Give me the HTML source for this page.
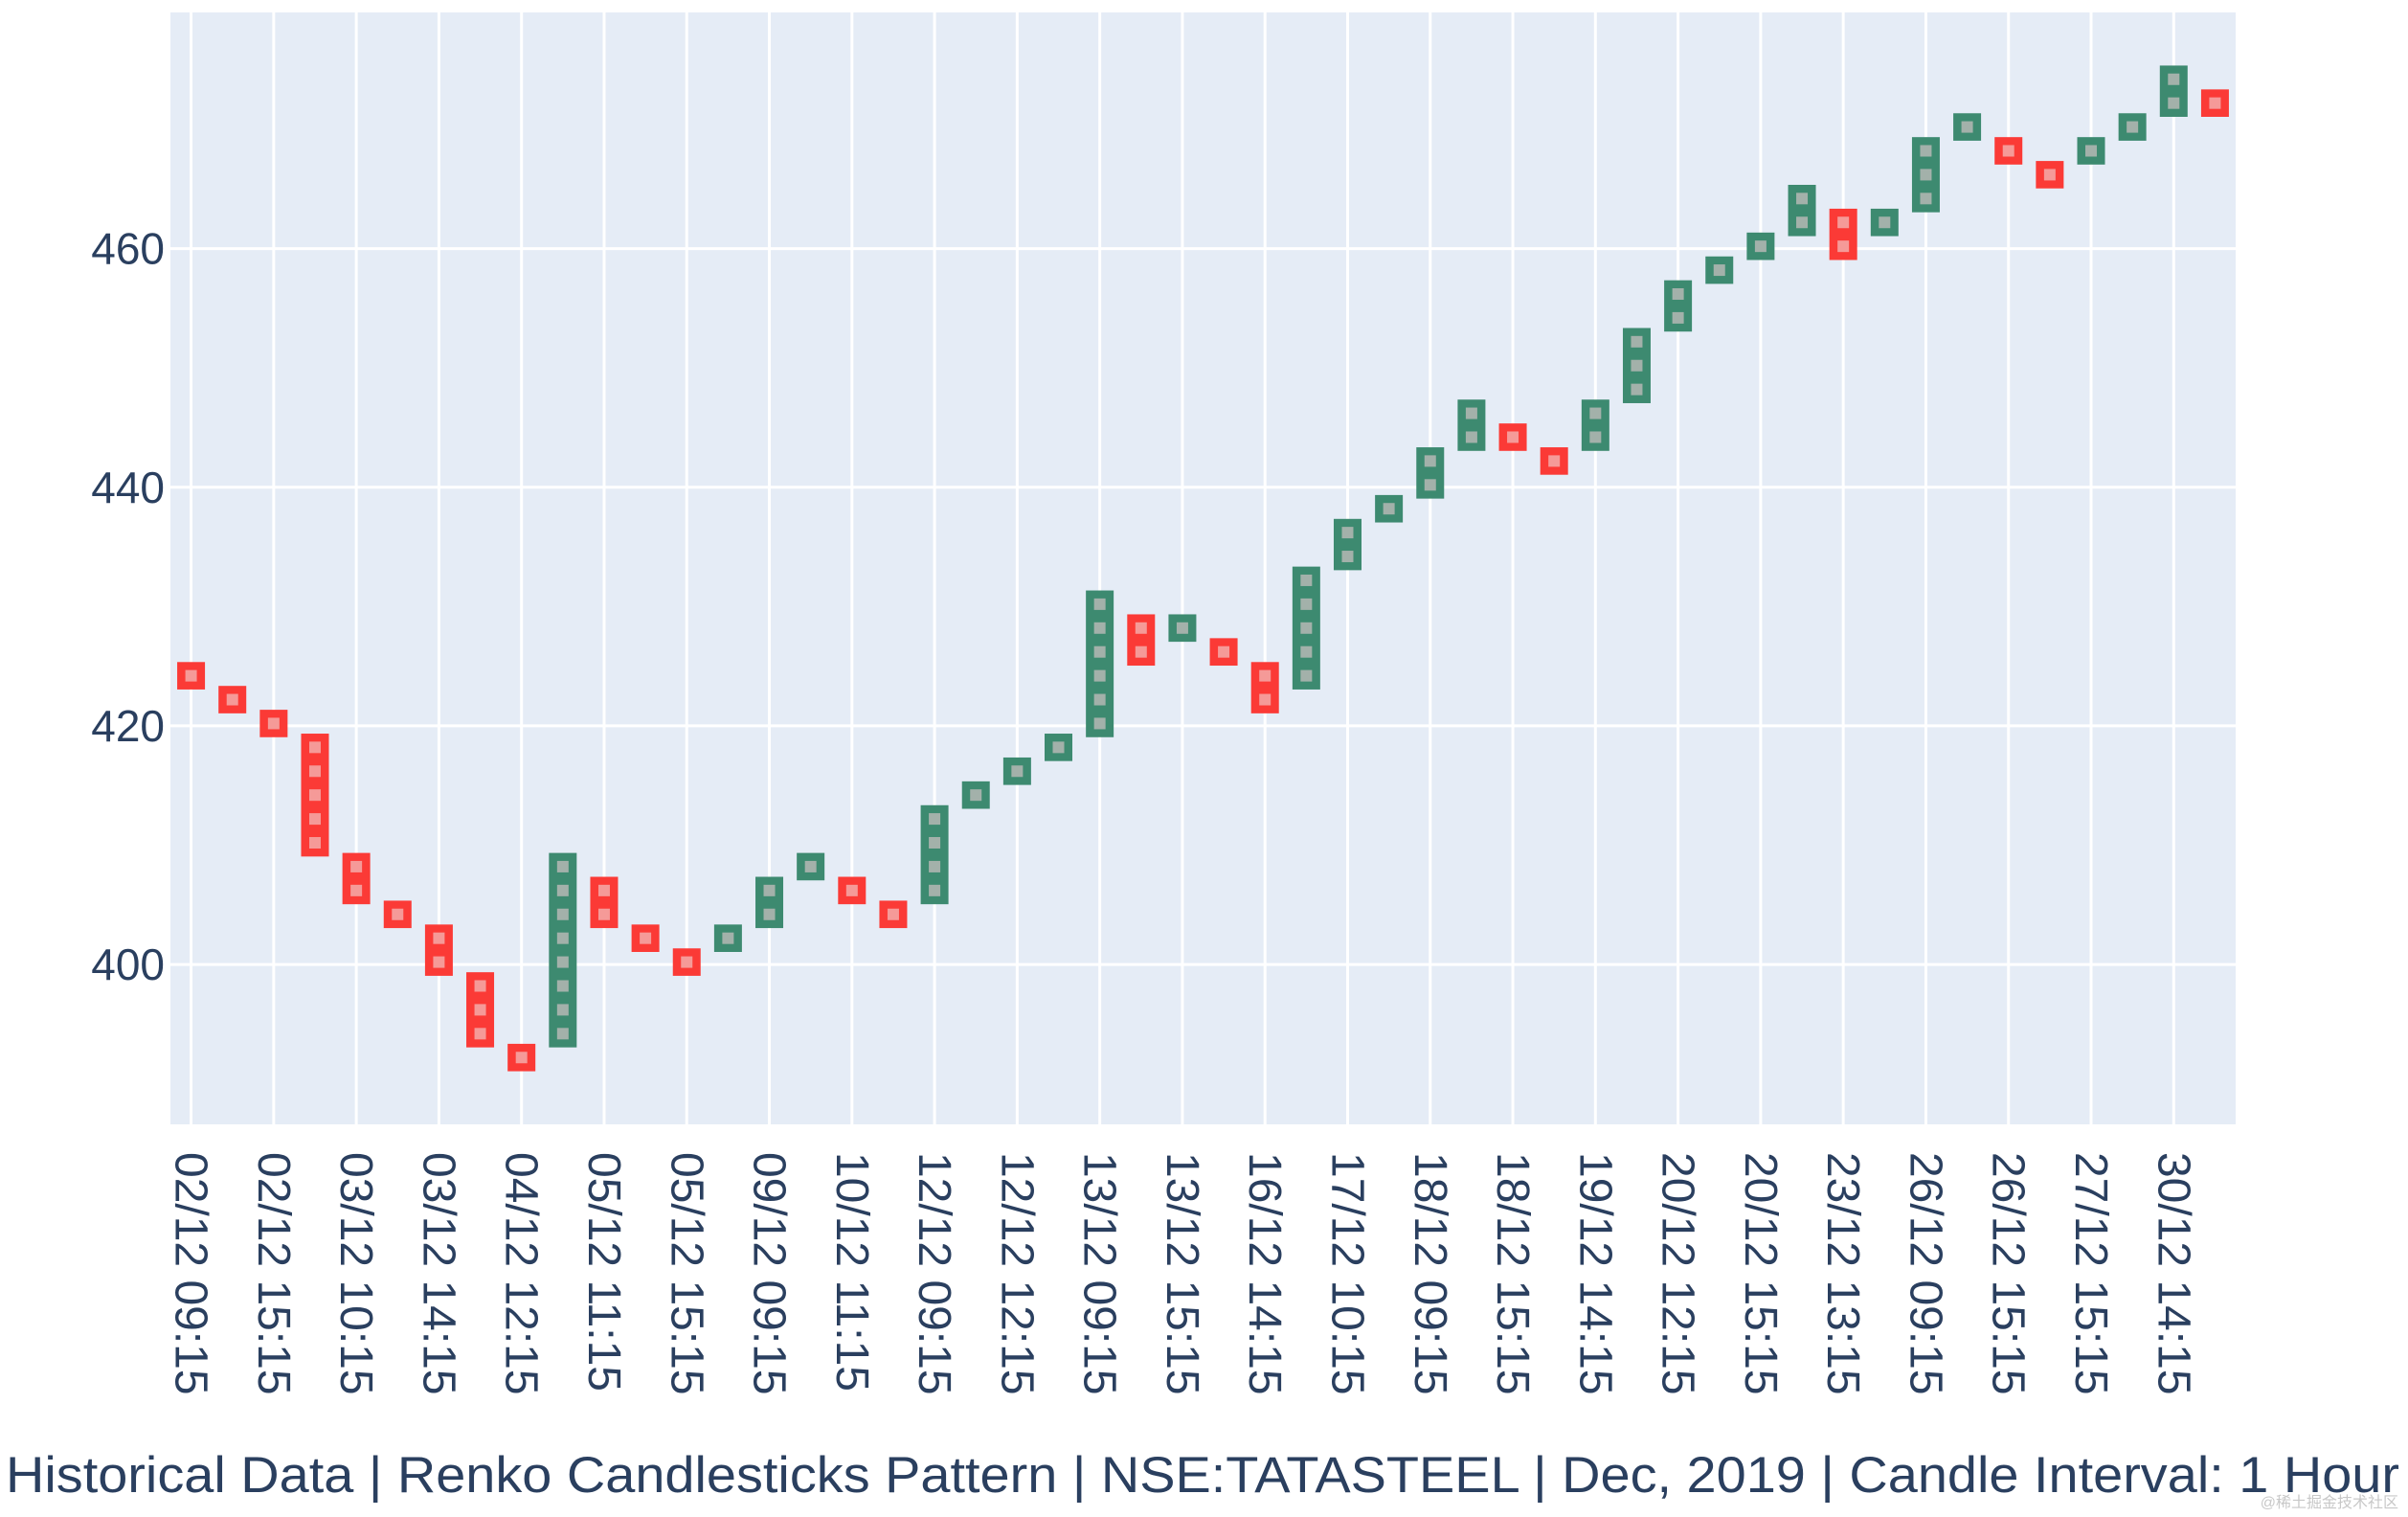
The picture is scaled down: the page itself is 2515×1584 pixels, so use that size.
<!DOCTYPE html>
<html><head><meta charset="utf-8"><style>
html,body{margin:0;padding:0;background:#fff;}
svg{display:block;font-family:"Liberation Sans","Noto Sans CJK SC",sans-serif;}
</style></head><body>
<svg id="chart" width="2515" height="1584" viewBox="0 0 2515 1584" xmlns="http://www.w3.org/2000/svg">
<rect x="178" y="13" width="2157" height="1161" fill="#e5ecf6"/>
<g id="grid"></g>
<g id="bricks"></g>
<g id="yticks"></g>
<g id="xticks"></g>
<text x="6" y="1558" font-size="53" fill="#2a3f5f" textLength="2500" lengthAdjust="spacingAndGlyphs">Historical Data | Renko Candlesticks Pattern | NSE:TATASTEEL | Dec, 2019 | Candle Interval: 1 Hour</text>
<text x="2505" y="1574" font-size="16" fill="#c8c8c8" text-anchor="end">@稀土掘金技术社区</text>
</svg>
<script>
// Each column: direction (1 up/green, -1 down/red), top brick center, brick count
const colDir = [-1,-1,-1,-1,-1,-1,-1,-1,-1,1,-1,-1,-1,1,1,1,-1,-1,1,1,1,1,1,-1,1,-1,-1,1,1,1,1,1,-1,-1,1,1,1,1,1,1,-1,1,1,1,-1,-1,1,1,1,-1];
const colTop = [424.2,422.2,420.2,418.2,408.2,404.2,402.2,398.2,392.2,408.2,406.2,402.2,400.2,402.2,406.2,408.2,406.2,404.2,412.2,414.2,416.2,418.2,430.2,428.2,428.2,426.2,424.2,432.2,436.2,438.2,442.2,446.2,444.2,442.2,446.2,452.2,456.2,458.2,460.2,464.2,462.2,462.2,468.2,470.2,468.2,466.2,468.2,470.2,474.2,472.2];
const colCount = [1,1,1,5,2,1,2,3,1,8,2,1,1,1,2,1,1,1,4,1,1,1,6,2,1,1,2,5,2,1,2,2,1,1,2,3,2,1,1,2,2,1,3,1,1,1,1,1,2,1];
const brickSize = 2;
const yTicks = [400,420,440,460];
const xTickLabels = ["02/12 09:15","02/12 15:15","03/12 10:15","03/12 14:15","04/12 12:15","05/12 11:15","05/12 15:15","09/12 09:15","10/12 11:15","12/12 09:15","12/12 12:15","13/12 09:15","13/12 15:15","16/12 14:15","17/12 10:15","18/12 09:15","18/12 15:15","19/12 14:15","20/12 12:15","20/12 15:15","23/12 13:15","26/12 09:15","26/12 15:15","27/12 15:15","30/12 14:15"];

const NS="http://www.w3.org/2000/svg";
const L=178,R=2335,T=13,B=1174;
const yMin=386.6,yMax=479.8;
const n=colDir.length;
const step=(R-L)/n;
function xs(i){return L+(i+0.5)*step;}
function ys(v){return B-(v-yMin)/(yMax-yMin)*(B-T);}
function mk(tag,attrs,parent){const e=document.createElementNS(NS,tag);for(const k in attrs)e.setAttribute(k,attrs[k]);parent.appendChild(e);return e;}

const grid=document.getElementById('grid');
for(let i=0;i<n;i+=2){
  const g=mk('line',{x1:xs(i),x2:xs(i),y1:T,y2:B,stroke:'#fff','stroke-width':3},grid);
  
  
}
const yt=document.getElementById('yticks');
yTicks.forEach(v=>{
  const g=mk('line',{x1:L,x2:R,y1:ys(v),y2:ys(v),stroke:'#fff','stroke-width':3},grid);
  
  
  const t=mk('text',{x:L-6,y:ys(v)+16,'font-size':46,fill:'#2a3f5f','text-anchor':'end'},yt);
  t.textContent=v;
  
  
});
const xt=document.getElementById('xticks');
xTickLabels.forEach((lab,k)=>{
  const x=xs(k*2)-16, y=1203;
  const t=mk('text',{x:x,y:y,'font-size':48,fill:'#2a3f5f',transform:`rotate(90 ${x} ${y})`},xt);
  t.textContent=lab;
  
  
});

const br=document.getElementById('bricks');
for(let i=0;i<n;i++){
  const up=colDir[i]>0;
  const col=up?'#3d8a70':'#fb3a36';
  const mcol=up?'#a3b1aa':'#f59a98';
  const top=colTop[i], bot=colTop[i]-(colCount[i]-1)*brickSize;
  const yTop=ys(top+1.15), yBot=ys(bot-1.15);
  const w=29;
  const r=mk('rect',{x:xs(i)-w/2,y:yTop,width:w,height:yBot-yTop,fill:col},br);
  
  
  for(let k=0;k<colCount[i];k++){
    const c=top-k*brickSize;
    const m=mk('rect',{x:xs(i)-6,y:ys(c)-6,width:12,height:12,fill:mcol},br);
    
    
  }
}
</script>
</body></html>
